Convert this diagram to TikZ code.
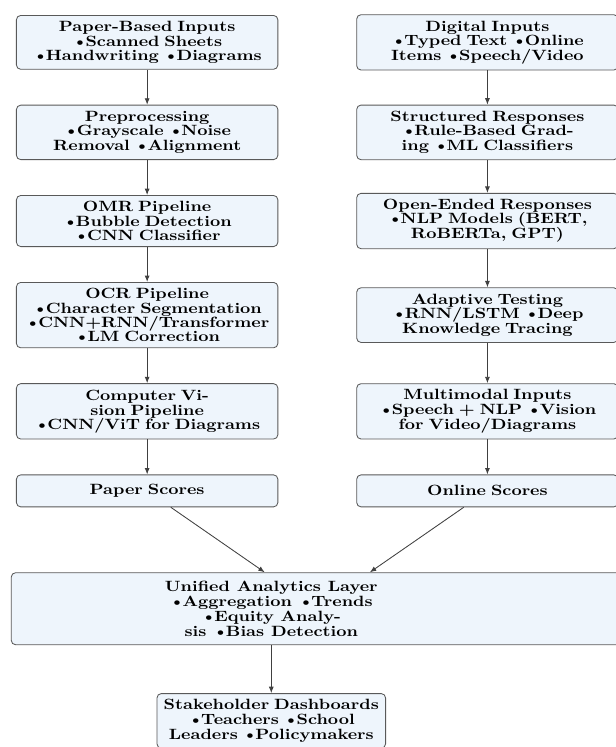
\documentclass[tikz,border=0pt]{standalone}
\usepackage{fontspec}
\newfontfamily\boxfont{Latin Modern Roman}[FakeStretch=1.2]
\usepackage{xcolor}
\usepackage{tikz}
\usetikzlibrary{arrows.meta,positioning,calc,backgrounds}
\definecolor{boxfill}{RGB}{238,245,252}
\newcommand{\itm}{\kern-0.5pt\textbullet\kern-1.8pt}

\begin{document}
\begin{tikzpicture}[node distance=24.5pt, auto,
    stage/.style={rectangle, draw=black!65, fill=boxfill, semithick, rounded corners=3pt, text width=175pt, inner xsep=4pt, inner ysep=4.2pt, align=center, minimum height=22.4pt, font=\boxfont\fontsize{10.4}{10.5}\selectfont\bfseries},
    frame/.style={rectangle, draw=black!65, fill=boxfill, semithick, rounded corners=3pt, inner sep=0pt, minimum width=428.4pt, minimum height=50.4pt},
    plain/.style={rectangle, inner sep=0pt, align=center, font=\boxfont\fontsize{10.4}{10.5}\selectfont\bfseries},
    line/.style={draw=black!75, -{Latex[length=4.5pt,width=3.5pt]}, semithick}]

    \node [stage] (paper) {Paper-Based Inputs\\ \itm Scanned Sheets\\ \itm Handwriting \itm Diagrams};
    \node [stage, below=of paper] (prep) {Preprocessing\\ \itm Grayscale \itm Noise\\ Removal \itm Alignment};
    \node [stage, below=of prep] (omr) {OMR Pipeline\\ \itm Bubble Detection\\ \itm CNN Classifier};
    \node [stage, below=of omr] (ocr) {OCR Pipeline\\ \itm Character Segmentation\\ \itm CNN+RNN/Transformer\\ \itm LM Correction};
    \node [stage, below=of ocr] (vision) {Computer Vi-\\ sion Pipeline\\ \itm CNN/ViT for Diagrams};
    \node [stage, below=of vision] (pscore) {Paper Scores};

    \node [stage, right=54.6pt of paper] (digital) {Digital Inputs\\ \itm Typed Text \itm Online\\ Items \itm Speech/Video};
    \node [stage, right=54.6pt of prep] (struct) {Structured Responses\\ \itm Rule-Based Grad-\\ ing \itm ML Classifiers};
    \node [stage, right=54.6pt of omr] (openend) {Open-Ended Responses\\ \itm NLP Models (BERT,\\ RoBERTa, GPT)};
    \node [stage, right=54.6pt of ocr] (adaptive) {Adaptive Testing\\ \itm RNN/LSTM \itm Deep\\ Knowledge Tracing};
    \node [stage, right=54.6pt of vision] (multi) {Multimodal Inputs\\ \itm Speech + NLP \itm Vision\\ for Video/Diagrams};
    \node [stage, right=54.6pt of pscore] (oscore) {Online Scores};

    \coordinate (mid) at ($(pscore.south)!0.5!(oscore.south)$);
    \node [frame, below=45.5pt of mid] (uniframe) {};
    \node [plain] (unified) at ([xshift=-32.2pt]uniframe.center) {Unified Analytics Layer\\ \itm Aggregation \itm Trends\\ \itm Equity Analy-\\ sis \itm Bias Detection};
    \coordinate (unibot) at (uniframe.south -| unified);
    \node [stage, text width=152pt, below=33.6pt of unibot] (stake) {Stakeholder Dashboards\\ \itm Teachers \itm School\\ Leaders \itm Policymakers};

    \path [line] (paper) -- (prep);
    \path [line] (prep) -- (omr);
    \path [line] (omr) -- (ocr);
    \path [line] (ocr) -- (vision);
    \path [line] (vision) -- (pscore);
    \path [line] (digital) -- (struct);
    \path [line] (struct) -- (openend);
    \path [line] (openend) -- (adaptive);
    \path [line] (adaptive) -- (multi);
    \path [line] (multi) -- (oscore);
    \path [line] (pscore) -- (uniframe);
    \path [line] (oscore) -- (uniframe);
    \path [line] (unibot) -- (stake);

    \pgfresetboundingbox
    \useasboundingbox ($(paper.north west)+(-11.2pt,10.5pt)$) rectangle ++(431.2pt,-522.9pt);
\end{tikzpicture}
\end{document}
